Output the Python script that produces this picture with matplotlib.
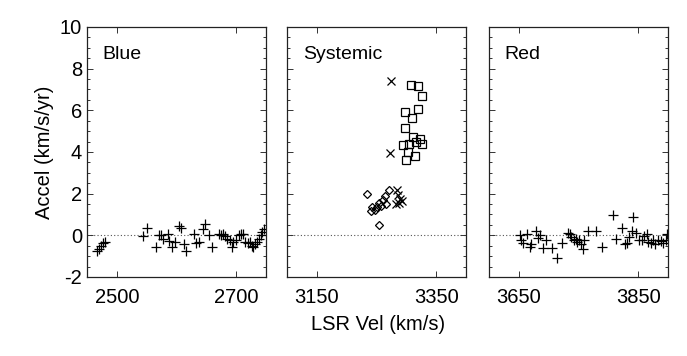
import matplotlib
matplotlib.use("Agg")
import matplotlib.pyplot as plt
from matplotlib.ticker import MultipleLocator, FixedLocator

plt.rcParams['font.family'] = ['Liberation Sans', 'DejaVu Sans']
plt.rcParams['axes.unicode_minus'] = False

# Blue-shifted masers (+)
blue_vel = [2467, 2470, 2473, 2476, 2480,
            2544, 2551, 2566, 2570, 2574, 2578, 2586, 2588, 2592, 2597,
            2604, 2608, 2612, 2616, 2629, 2633, 2637, 2644, 2648, 2655, 2660,
            2671, 2674, 2678, 2682, 2685, 2689, 2693, 2695, 2699, 2704,
            2708, 2712, 2715, 2719, 2723, 2726, 2728, 2732, 2735, 2738,
            2741, 2744, 2747]
blue_acc = [-0.76, -0.65, -0.49, -0.37, -0.33,
            -0.05, 0.33, -0.54, 0.03, 0.0, -0.16, 0.08, -0.28, -0.54, -0.33,
            0.44, 0.37, -0.41, -0.76, 0.08, -0.37, -0.33, 0.28, 0.54, 0.0, -0.54,
            0.08, 0.0, 0.08, -0.05, -0.16, -0.24, -0.54, -0.33, -0.21, 0.0,
            0.08, 0.05, -0.33, -0.37, -0.33, -0.49, -0.57, -0.41, -0.33, -0.16,
            0.0, 0.16, 0.28]

# Systemic masers: three groups
sys_x_vel = [3274, 3272, 3284, 3286, 3290, 3287, 3283, 3293]
sys_x_acc = [7.40, 3.95, 2.16, 1.95, 1.74, 1.54, 1.51, 1.63]

sys_sq_vel = [3308, 3319, 3327, 3297, 3320, 3309, 3298, 3311, 3323, 3327,
              3294, 3304, 3316, 3302, 3315, 3300]
sys_sq_acc = [7.20, 7.15, 6.67, 5.93, 6.06, 5.64, 5.15, 4.71, 4.60, 4.39,
              4.34, 4.39, 4.47, 3.98, 3.82, 3.62]

sys_dm_vel = [3234, 3271, 3265, 3261, 3255, 3266, 3250, 3243, 3240, 3247, 3258, 3254]
sys_dm_acc = [1.98, 2.16, 1.90, 1.71, 1.54, 1.51, 1.38, 1.35, 1.19, 1.22, 1.41, 0.49]

# Red-shifted masers (+)
red_vel = [3652, 3654, 3657, 3663, 3668, 3670, 3678, 3682, 3685, 3691, 3695,
           3706, 3714, 3723, 3732, 3736, 3738, 3742, 3745, 3747, 3750, 3754,
           3757, 3760, 3766, 3779, 3790, 3807, 3813, 3823, 3828, 3831, 3835,
           3840, 3842, 3847, 3852, 3856, 3860, 3864, 3867, 3871, 3875, 3879,
           3884, 3888, 3892, 3896, 3898]
red_acc = [0.03, -0.24, -0.37, 0.08, -0.54, -0.41, 0.21, -0.11, 0.0, -0.62, -0.21,
           -0.62, -1.10, -0.36, 0.11, 0.05, -0.08, -0.24, -0.16, -0.33, -0.24, -0.41,
           -0.65, -0.21, 0.21, 0.21, -0.54, 0.98, -0.16, 0.37, -0.41, -0.37, -0.08,
           0.21, 0.89, 0.11, -0.24, -0.21, -0.05, 0.05, -0.33, -0.37, -0.24, -0.41,
           -0.21, -0.28, -0.37, -0.21, 0.08]

panel_names = ["Blue", "Systemic", "Red"]
xlims = [(2450, 2750), (3100, 3400), (3600, 3900)]
xticks = [[2500, 2700], [3150, 3350], [3650, 3850]]

fig = plt.figure(figsize=(6.87, 3.56), dpi=100)
lefts = [87 / 687, 287 / 687, 489 / 687]
w = 179 / 687
b = 1 - 277 / 356
h = 250 / 356
axes = [fig.add_axes([l, b, w, h]) for l in lefts]

pkw = dict(color='black', linestyle='none', markerfacecolor='none',
           markeredgewidth=0.9)

axes[0].plot(blue_vel, blue_acc, marker='+', markersize=7.5, **pkw)
axes[1].plot(sys_dm_vel, sys_dm_acc, marker='D', markersize=4.5, **pkw)
axes[1].plot(sys_sq_vel, sys_sq_acc, marker='s', markersize=6, **pkw)
axes[1].plot(sys_x_vel, sys_x_acc, marker='x', markersize=6, **pkw)
axes[2].plot(red_vel, red_acc, marker='+', markersize=7.5, **pkw)

for i, ax in enumerate(axes):
    ax.set_xlim(*xlims[i])
    ax.set_ylim(-2, 10)
    ax.axhline(0, color='#555555', linestyle=(0, (1, 2)), linewidth=0.8, zorder=0)
    ax.xaxis.set_major_locator(FixedLocator(xticks[i]))
    ax.yaxis.set_major_locator(MultipleLocator(2))
    ax.yaxis.set_minor_locator(MultipleLocator(0.5))
    ax.tick_params(which='both', direction='in', top=True, right=True,
                   labelsize=14.5, width=0.7, color='#333333')
    ax.tick_params(which='major', length=4)
    ax.tick_params(which='minor', length=2)
    ax.tick_params(axis='x', pad=8)
    for s in ax.spines.values():
        s.set_linewidth(0.9)
        s.set_color('#222222')
    ax.text(0.088, 0.888, panel_names[i], transform=ax.transAxes,
            fontsize=14, va='center', ha='left')
    if i > 0:
        ax.set_yticklabels([])

axes[0].set_ylabel("Accel (km/s/yr)", fontsize=14.5)
fig.text(378 / 687, 1 - 325 / 356, "LSR Vel (km/s)", fontsize=14.5,
         ha='center', va='center')

fig.savefig("out.png", dpi=100)
